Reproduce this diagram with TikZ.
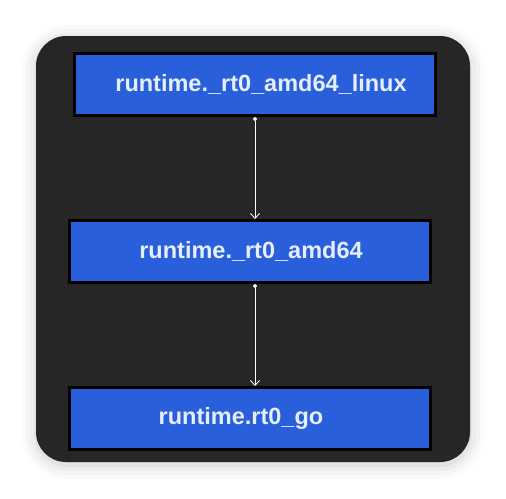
\documentclass[tikz,border=0pt]{standalone}
\usepackage{fontspec}
\setmainfont{Liberation Sans}
\usetikzlibrary{positioning,arrows.meta,shadows.blur}

\definecolor{panelgray}{HTML}{262626}
\definecolor{boxblue}{HTML}{2A5FDB}
\definecolor{textwhite}{HTML}{E6EEFB}

\begin{document}
\begin{tikzpicture}[x=1pt, y=-1pt, node distance=102pt,
	funcbox/.style={draw=black, line width=3pt, fill=boxblue, text=textwhite,
		font=\fontsize{23.5}{28}\selectfont\bfseries,
		minimum width=361pt, minimum height=62pt, inner sep=0pt},
	callarrow/.style={draw=white, line width=0.8pt,
		{Circle[length=4pt]}-{Straight Barb[length=5pt,width=9pt]}}]

	\useasboundingbox (0,0) rectangle (506,498);

	%% Panel
	\fill[panelgray, rounded corners=30pt, blur shadow={shadow xshift=0pt, shadow yshift=-3pt, shadow blur radius=14pt, shadow opacity=22}]
		(36,36) rectangle (470,462);

	%% Call chain
	\node[funcbox] (rt0_linux) at (255,84.5) {\hspace*{12pt}runtime.\_rt0\_amd64\_linux};
	\node[funcbox] (rt0_amd64) [below =of rt0_linux, xshift=-5.5pt] {\hspace*{3pt}runtime.\_rt0\_amd64};
	\node[funcbox] (rt0_go) [below =of rt0_amd64] {runtime.rt0\_go\hspace*{17pt}};

	\draw[callarrow] (rt0_linux.south) -- (rt0_linux.south |- rt0_amd64.north);
	\draw[callarrow] (rt0_amd64.south -| rt0_linux.south) -- (rt0_linux.south |- rt0_go.north);

\end{tikzpicture}
\end{document}
